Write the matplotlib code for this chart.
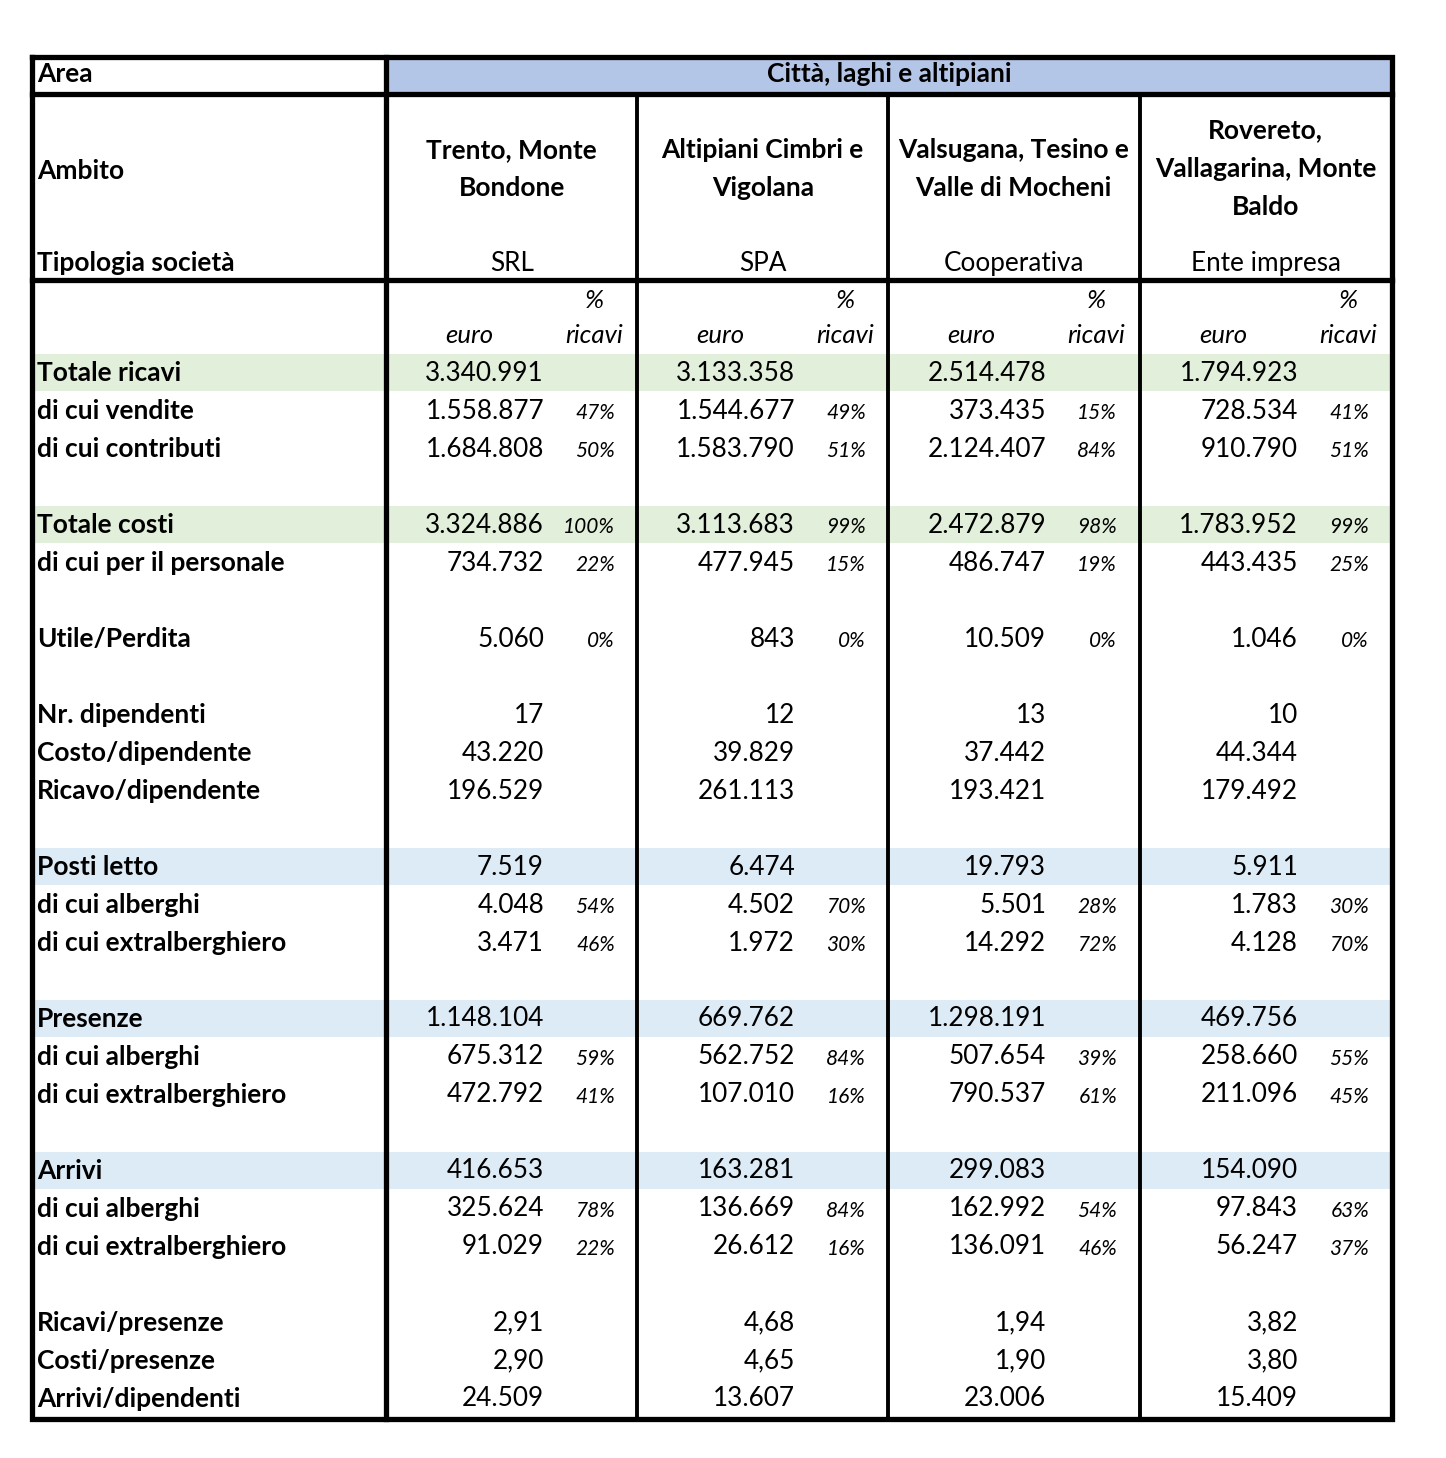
import numpy as np
import matplotlib
matplotlib.use('Agg')
import matplotlib.pyplot as plt

plt.rcParams['font.family'] = ['Lato', 'DejaVu Sans']

# dati della tabella
area_label = 'Città, laghi e altipiani'
ambiti = ['Trento, Monte\nBondone', 'Altipiani Cimbri e\nVigolana',
          'Valsugana, Tesino e\nValle di Mocheni', 'Rovereto,\nVallagarina, Monte\nBaldo']
tipologie = ['SRL', 'SPA', 'Cooperativa', 'Ente impresa']

# righe (None = riga vuota)
row_labels = ['Totale ricavi', 'di cui vendite', 'di cui contributi', None,
              'Totale costi', 'di cui per il personale', None,
              'Utile/Perdita', None,
              'Nr. dipendenti', 'Costo/dipendente', 'Ricavo/dipendente', None,
              'Posti letto', 'di cui alberghi', 'di cui extralberghiero', None,
              'Presenze', 'di cui alberghi', 'di cui extralberghiero', None,
              'Arrivi', 'di cui alberghi', 'di cui extralberghiero', None,
              'Ricavi/presenze', 'Costi/presenze', 'Arrivi/dipendenti']
green_rows = ['Totale ricavi', 'Totale costi']
blue_rows = ['Posti letto', 'Presenze', 'Arrivi']

euro_trento = ['3.340.991', '1.558.877', '1.684.808', '', '3.324.886', '734.732', '', '5.060', '',
               '17', '43.220', '196.529', '', '7.519', '4.048', '3.471', '',
               '1.148.104', '675.312', '472.792', '', '416.653', '325.624', '91.029', '',
               '2,91', '2,90', '24.509']
pct_trento = ['', '47%', '50%', '', '100%', '22%', '', '0%', '', '', '', '', '', '', '54%', '46%', '',
              '', '59%', '41%', '', '', '78%', '22%', '', '', '', '']

euro_cimbri = ['3.133.358', '1.544.677', '1.583.790', '', '3.113.683', '477.945', '', '843', '',
               '12', '39.829', '261.113', '', '6.474', '4.502', '1.972', '',
               '669.762', '562.752', '107.010', '', '163.281', '136.669', '26.612', '',
               '4,68', '4,65', '13.607']
pct_cimbri = ['', '49%', '51%', '', '99%', '15%', '', '0%', '', '', '', '', '', '', '70%', '30%', '',
              '', '84%', '16%', '', '', '84%', '16%', '', '', '', '']

euro_valsugana = ['2.514.478', '373.435', '2.124.407', '', '2.472.879', '486.747', '', '10.509', '',
                  '13', '37.442', '193.421', '', '19.793', '5.501', '14.292', '',
                  '1.298.191', '507.654', '790.537', '', '299.083', '162.992', '136.091', '',
                  '1,94', '1,90', '23.006']
pct_valsugana = ['', '15%', '84%', '', '98%', '19%', '', '0%', '', '', '', '', '', '', '28%', '72%', '',
                 '', '39%', '61%', '', '', '54%', '46%', '', '', '', '']

euro_rovereto = ['1.794.923', '728.534', '910.790', '', '1.783.952', '443.435', '', '1.046', '',
                 '10', '44.344', '179.492', '', '5.911', '1.783', '4.128', '',
                 '469.756', '258.660', '211.096', '', '154.090', '97.843', '56.247', '',
                 '3,82', '3,80', '15.409']
pct_rovereto = ['', '41%', '51%', '', '99%', '25%', '', '0%', '', '', '', '', '', '', '30%', '70%', '',
                '', '55%', '45%', '', '', '63%', '37%', '', '', '', '']

euro_cols = [euro_trento, euro_cimbri, euro_valsugana, euro_rovereto]
pct_cols = [pct_trento, pct_cimbri, pct_valsugana, pct_rovereto]

# geometria (pixel)
W, H = 1446, 1458
fig = plt.figure(figsize=(W / 100, H / 100), dpi=100)
ax = fig.add_axes([0, 0, 1, 1])
ax.set_xlim(0, W)
ax.set_ylim(H, 0)
ax.axis('off')

L, R = 32, 1392
col_x = [386, 637, 888, 1140]
top, area_bot, head_bot, bot = 57, 94, 280, 1419
y0, dy = 373, 38

fs = 18.8
fs_lab = 19
fs_pct = 15
fs_sub = 18.5

# sfondi
ax.fill_between([col_x[0], R], top, area_bot, color='#b4c6e7', lw=0, zorder=0)
for i, lab in enumerate(row_labels):
    y = y0 + dy * i - 1
    if lab in green_rows:
        ax.fill_between([L, R], y - 18.5, y + 18.5, color='#e2efda', lw=0, zorder=0)
    elif lab in blue_rows:
        ax.fill_between([L, R], y - 18.5, y + 18.5, color='#ddebf7', lw=0, zorder=0)

# bordi
thick, thin = 3.8, 2.8
ax.plot([L, R, R, L, L], [top, top, bot, bot, top], color='black', lw=thick, zorder=3,
        solid_joinstyle='miter')
ax.plot([L, R], [area_bot, area_bot], color='black', lw=thick, zorder=3)
ax.plot([L, R], [head_bot, head_bot], color='black', lw=thick, zorder=3)
ax.plot([col_x[0], col_x[0]], [top, bot], color='black', lw=thick, zorder=3)
for x in col_x[1:]:
    ax.plot([x, x], [area_bot, bot], color='black', lw=thin, zorder=3)

# intestazioni
ax.text(37, 74, 'Area', fontsize=fs_lab, fontweight='bold', va='center', ha='left')
ax.text((col_x[0] + R) / 2, 74, area_label, fontsize=fs_lab, fontweight='bold', va='center', ha='center')
ax.text(37, 171, 'Ambito', fontsize=fs_lab, fontweight='bold', va='center', ha='left')
ax.text(37, 263, 'Tipologia società', fontsize=fs_lab, fontweight='bold', va='center', ha='left')

col_w = 251.5
for j, cx in enumerate(col_x):
    mid = cx + col_w / 2
    ax.text(mid, 169, ambiti[j], fontsize=fs_lab, fontweight='bold', va='center', ha='center',
            linespacing=1.72)
    ax.text(mid, 263, tipologie[j], fontsize=fs, va='center', ha='center')
    ax.text(cx + 83, 335, 'euro', fontsize=fs_sub, style='italic', va='center', ha='center')
    ax.text(cx + 237, 335, 'ricavi', fontsize=fs_sub, style='italic', va='center', ha='right')
    ax.text(cx + 208, 300, '%', fontsize=fs_sub, style='italic', va='center', ha='center')

# righe dati
for i, lab in enumerate(row_labels):
    if lab is None:
        continue
    y = y0 + dy * i
    ax.text(37, y, lab, fontsize=fs_lab, fontweight='bold', va='center', ha='left')
    for j, cx in enumerate(col_x):
        ax.text(cx + 158, y, euro_cols[j][i], fontsize=fs, va='center', ha='right')
        if pct_cols[j][i]:
            ax.text(cx + 229, y + 2, pct_cols[j][i], fontsize=fs_pct, style='italic',
                    va='center', ha='right')

fig.savefig('out.png', dpi=100, facecolor='white')
